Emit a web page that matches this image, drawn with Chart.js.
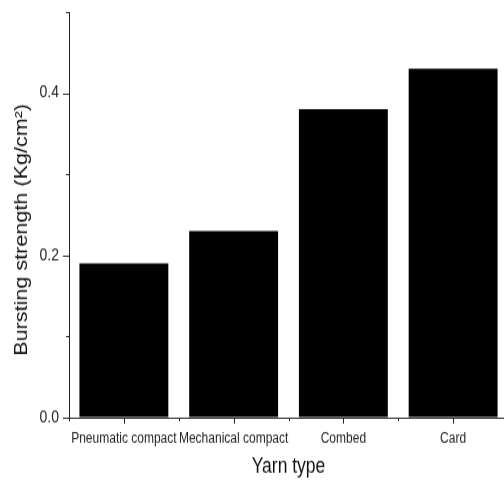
<!DOCTYPE html>
<html>
<head>
<meta charset="utf-8">
<script src="https://cdn.jsdelivr.net/npm/chart.js@4"></script>
<style>
  html, body { margin: 0; padding: 0; background: #fff; width: 504px; height: 480px; overflow: hidden; }
  /* original figure is stretched vertically, so draw at 400px tall and stretch to 480 */
  #chart { transform: scaleY(1.2); transform-origin: 0 0; display: block; }
</style>
</head>
<body>
<canvas id="chart" width="512" height="400"></canvas>
<script>
const yarnTypes = ["Pneumatic compact", "Mechanical compact", "Combed", "Card"];
const burstingStrength = [0.19, 0.23, 0.38, 0.43];
const yMajorTicks = [0, 0.2, 0.4];
const yMinorTicks = [0.1, 0.3, 0.5];

const axisColor = "#222";

// minor / major tick marks drawn outside the axes
const tickMarks = {
  id: "tickMarks",
  afterDraw(chart) {
    const c = chart.ctx;
    const x = chart.scales.x;
    const y = chart.scales.y;
    const left = chart.chartArea.left;
    const bottom = chart.chartArea.bottom;
    c.save();
    c.strokeStyle = axisColor;
    c.lineWidth = 1;
    c.beginPath();
    yMajorTicks.forEach(v => {
      const py = Math.round(y.getPixelForValue(v)) + 0.5;
      c.moveTo(left - 6, py); c.lineTo(left, py);
    });
    yMinorTicks.forEach(v => {
      const py = Math.round(y.getPixelForValue(v)) + 0.5;
      c.moveTo(left - 3, py); c.lineTo(left, py);
    });
    yarnTypes.forEach((t, i) => {
      const px = Math.round(x.getPixelForValue(i)) + 0.5;
      c.moveTo(px, bottom); c.lineTo(px, bottom + 5);
      const pb = Math.round(x.getPixelForValue(i - 0.5)) + 0.5;
      c.moveTo(pb, bottom); c.lineTo(pb, bottom + 3);
    });
    c.stroke();
    c.restore();
  }
};

new Chart(document.getElementById("chart"), {
  type: "bar",
  data: {
    labels: yarnTypes,
    datasets: [{
      label: "Bursting strength",
      data: burstingStrength,
      backgroundColor: "#000",
      borderWidth: 0,
      barPercentage: 0.81,
      categoryPercentage: 1.0
    }]
  },
  options: {
    responsive: false,
    animation: false,
    devicePixelRatio: 1,
    layout: { padding: { top: 10, right: 4, left: 0, bottom: 0 } },
    plugins: {
      legend: { display: false },
      tooltip: { enabled: false }
    },
    scales: {
      x: {
        grid: { display: true, drawOnChartArea: false, drawTicks: false },
        border: { display: true, color: axisColor, width: 1 },
        ticks: {
          color: "#222",
          padding: 10,
          maxRotation: 0,
          autoSkip: false,
          font: { family: "Liberation Sans, Arial, sans-serif", size: 12 }
        },
        title: {
          display: true,
          text: "Yarn type",
          color: "#111",
          padding: { top: 0, bottom: 0 },
          font: { family: "Liberation Sans, Arial, sans-serif", size: 17.5 }
        },
        afterFit(scale) {
          scale.height = 52;
          scale.paddingLeft = 0;
          scale.paddingRight = 0;
        }
      },
      y: {
        min: 0,
        max: 0.5,
        grid: { display: true, drawOnChartArea: false, drawTicks: false },
        border: { display: true, color: axisColor, width: 1 },
        ticks: {
          stepSize: 0.1,
          color: "#222",
          padding: 10,
          font: { family: "Liberation Sans, Arial, sans-serif", size: 14 },
          callback: v => yMajorTicks.some(m => Math.abs(m - v) < 1e-6) ? v.toFixed(1) : ""
        },
        title: {
          display: true,
          text: "Bursting strength (Kg/cm²)     ",
          color: "#111",
          padding: { top: 11, bottom: 0 },
          font: { family: "Liberation Sans, Arial, sans-serif", size: 18 }
        },
        afterFit(scale) {
          scale.width = 69;
          scale.paddingTop = 0;
          scale.paddingBottom = 0;
        }
      }
    }
  },
  plugins: [tickMarks]
});
</script>
</body>
</html>
